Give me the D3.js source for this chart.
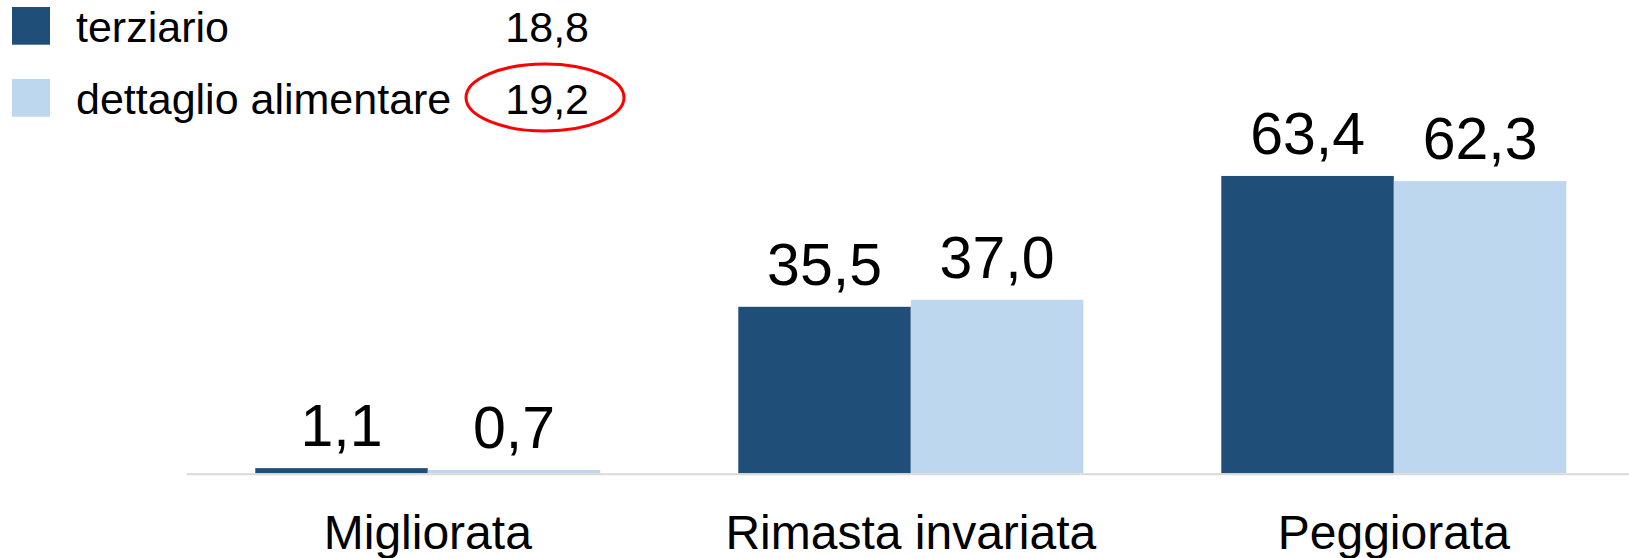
<!DOCTYPE html>
<html>
<head>
<meta charset="utf-8">
<script src="https://cdn.jsdelivr.net/npm/d3@7"></script>
<style>
  html, body { margin: 0; padding: 0; background: #ffffff; }
  svg { display: block; font-family: "Liberation Sans", Arial, sans-serif; }
</style>
</head>
<body>
<svg id="chart" width="1629" height="558"></svg>
<script>
// Valutazione della situazione: quote percentuali per settore
const categories = ["Migliorata", "Rimasta invariata", "Peggiorata"];
const seriesNames = ["terziario", "dettaglio alimentare"];
const terziario = [1.1, 35.5, 63.4];
const dettaglioAlimentare = [0.7, 37.0, 62.3];
const legendTotals = [18.8, 19.2];
const seriesColors = ["#1f4e78", "#bdd7ee"];

const fmt = v => d3.format(".1f")(v).replace(".", ",");

const svg = d3.select("#chart");
const W = 1629;

const rows = categories.map((c, i) => ({
  category: c,
  values: [terziario[i], dettaglioAlimentare[i]]
}));

const x0 = d3.scaleBand()
  .domain(categories)
  .range([186.3, 1635.3])
  .paddingInner(0.2857)
  .paddingOuter(0.1428);

const x1 = d3.scaleBand()
  .domain(d3.range(seriesNames.length))
  .range([0, x0.bandwidth()]);

const y = d3.scaleLinear()
  .domain([0, 100])
  .range([473.3, 4.3]);

// bars
const groups = svg.selectAll("g.group")
  .data(rows)
  .join("g")
  .attr("class", "group")
  .attr("transform", d => `translate(${x0(d.category)},0)`);

groups.selectAll("rect")
  .data(d => d.values.map((v, k) => ({ v, k })))
  .join("rect")
  .attr("x", d => x1(d.k))
  .attr("width", x1.bandwidth())
  .attr("y", d => y(d.v))
  .attr("height", d => y(0) - y(d.v))
  .attr("fill", d => seriesColors[d.k]);

// value labels
groups.selectAll("text.val")
  .data(d => d.values.map((v, k) => ({ v, k })))
  .join("text")
  .attr("class", "val")
  .attr("x", d => x1(d.k) + x1.bandwidth() / 2)
  .attr("y", d => y(d.v) - 22)
  .attr("text-anchor", "middle")
  .attr("font-size", 59)
  .attr("fill", "#000")
  .text(d => fmt(d.v));

// category axis
const axis = svg.append("g")
  .attr("transform", `translate(0,${y(0) + 1})`)
  .call(d3.axisBottom(x0).tickSize(0).tickPadding(0));
axis.select(".domain").remove();
axis.append("line")
  .attr("x1", 187).attr("x2", W)
  .attr("y1", 0).attr("y2", 0)
  .attr("stroke", "#d9d9d9")
  .attr("stroke-width", 2);
axis.selectAll(".tick text")
  .attr("y", 0)
  .attr("dy", 0)
  .attr("transform", "translate(0,74.5)")
  .attr("font-size", 48)
  .attr("font-family", "'Liberation Sans', Arial, sans-serif")
  .attr("fill", "#000");

// legend with totals
const legend = svg.append("g");
const item = legend.selectAll("g")
  .data(seriesNames.map((name, i) => ({ name, total: legendTotals[i], i })))
  .join("g")
  .attr("transform", d => `translate(0,${d.i * 72})`);

item.append("rect")
  .attr("x", 12).attr("y", 7)
  .attr("width", 38).attr("height", 37.7)
  .attr("fill", d => seriesColors[d.i]);

item.append("text")
  .attr("x", 76).attr("y", 42)
  .attr("font-size", 43)
  .attr("fill", "#000")
  .text(d => d.name);

item.append("text")
  .attr("x", 589).attr("y", 42)
  .attr("text-anchor", "end")
  .attr("font-size", 43)
  .attr("fill", "#000")
  .text(d => fmt(d.total));

// highlight around the food retail total
legend.append("ellipse")
  .attr("cx", 545).attr("cy", 97.5)
  .attr("rx", 79).attr("ry", 33.5)
  .attr("fill", "none")
  .attr("stroke", "#ff0000")
  .attr("stroke-width", 3);
</script>
</body>
</html>
